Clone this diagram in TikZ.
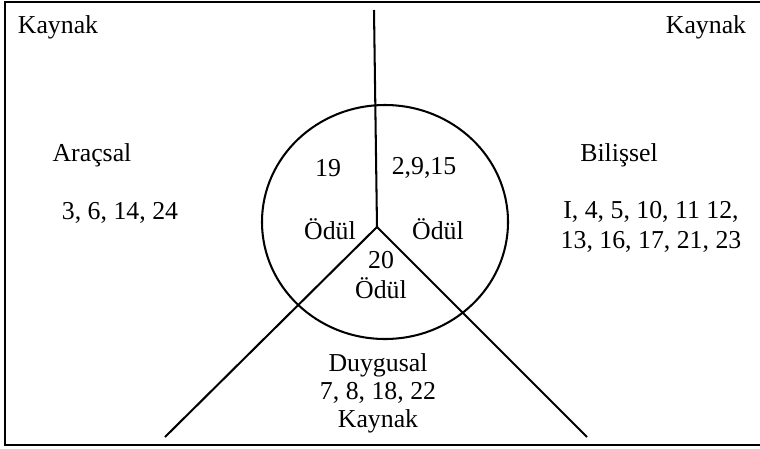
\documentclass[tikz,border=0pt]{standalone}
\usepackage{fontspec}
\setmainfont{Liberation Serif}
\begin{document}
\begin{tikzpicture}[x=0.4651pt, y=-0.4651pt, font=\fontsize{12}{14}\selectfont,
  lbl/.style={inner sep=0pt, align=center},
  rim/.style={line width=1.2pt},
  spoke/.style={line width=0.95pt}]
  \useasboundingbox (0,0) rectangle (760,448);
  % frame
  \draw[rim] (760,2) -- (5,2) -- (5,445) -- (760,445);
  % circle and the three spokes
  \draw[spoke] (385,222) ellipse [x radius=123, y radius=117];
  \coordinate (mid) at (377,227);
  \coordinate (top) at (374,10);
  \coordinate (bl) at (165,437);
  \coordinate (br) at (587,437);
  \draw[spoke] (top) -- (mid);
  \draw[spoke] (mid) -- (bl);
  \draw[spoke] (mid) -- (br);
  % outer labels
  \node[lbl] (kayTL) at (58,27) {Kaynak};
  \node[lbl] (kayTR) at (706,27) {Kaynak};
  \node[lbl] (arac) at (92,155) {Araçsal};
  \node[lbl] (aracN) at (120,213) {3, 6, 14, 24};
  \node[lbl] (bil) at (619,155) {Bilişsel};
  \node[lbl] (bilN) at (651,227) {I, 4, 5, 10, 11 12,\\13, 16, 17, 21, 23};
  \node[lbl, font=\fontsize{12}{13}\selectfont] (duy) at (378,393) {Duygusal\\7, 8, 18, 22\\Kaynak};
  % inside the circle
  \node[lbl] (n19) at (328,168) {19};
  \node[lbl] (n2) at (424,168) {2,9,15};
  \node[lbl] (odL) at (330,229) {Ödül};
  \node[lbl] (odR) at (438,229) {Ödül};
  \node[lbl] (odB) at (381,275) {20\\Ödül};
\end{tikzpicture}
\end{document}
